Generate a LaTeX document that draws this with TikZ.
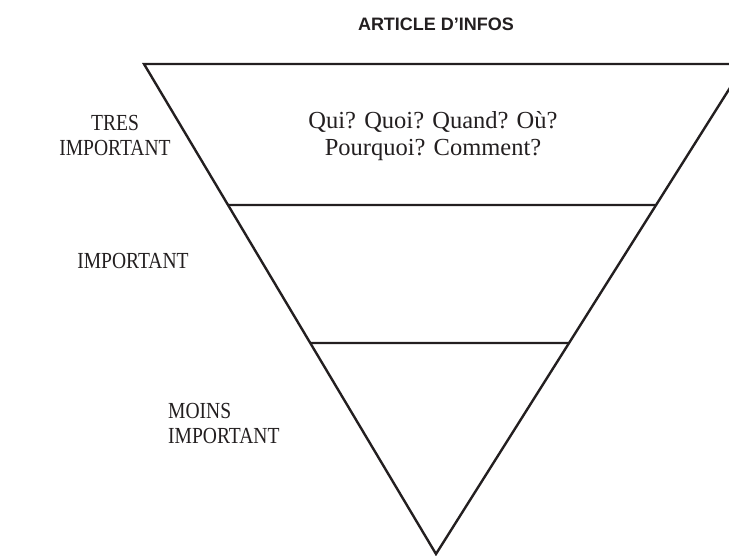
\documentclass[tikz,border=0pt]{standalone}
\usepackage{fontspec}
\setmainfont{Liberation Serif}
\newfontfamily\titlefont{Liberation Sans}
\newfontfamily\narrowserif[FakeStretch=0.85]{Liberation Serif}
\definecolor{inkgrey}{HTML}{231F20}
\tikzset{
  pyramid/.style={draw=inkgrey, line width=2.4pt, line join=miter},
  divider/.style={draw=inkgrey, line width=2.4pt},
  levellabel/.style={text=inkgrey, font=\narrowserif\fontsize{23}{25}\selectfont, inner sep=0pt},
  questions/.style={text=inkgrey, font=\fontsize{24.5}{27}\selectfont, align=center, inner sep=0pt},
  headline/.style={text=inkgrey, font=\titlefont\bfseries\fontsize{18}{20}\selectfont, inner sep=0pt}
}
\begin{document}
\begin{tikzpicture}[x=1pt, y=-1pt]
\useasboundingbox (0,0) rectangle (729,556);
\begin{scope}
\clip (0,0) rectangle (729,556);
% inverted pyramid
\coordinate (topleft) at (144,64);
\coordinate (topright) at (745,64);
\coordinate (tip) at (436,554);
\draw[pyramid] (topleft) -- (topright) -- (tip) -- cycle;
% levels
\coordinate (cut1l) at (intersection of topleft--tip and 0,205--729,205);
\coordinate (cut1r) at (intersection of topright--tip and 0,205--729,205);
\coordinate (cut2l) at (intersection of topleft--tip and 0,343--729,343);
\coordinate (cut2r) at (intersection of topright--tip and 0,343--729,343);
\draw[divider] (cut1l) -- (cut1r);
\draw[divider] (cut2l) -- (cut2r);
\end{scope}

\node[headline] (title) at (436,24) {ARTICLE D’INFOS};
\node[questions] (wquestions) at (433,136) {Qui? Quoi? Quand? Où?\\Pourquoi? Comment?};

\node[levellabel, align=center] (veryimp) at (115,135) {TRES\\IMPORTANT};
\node[levellabel] (imp) at (133,261) {IMPORTANT};
\node[levellabel, align=left, anchor=west] (lessimp) at (168,423) {MOINS\\IMPORTANT};
\end{tikzpicture}
\end{document}
